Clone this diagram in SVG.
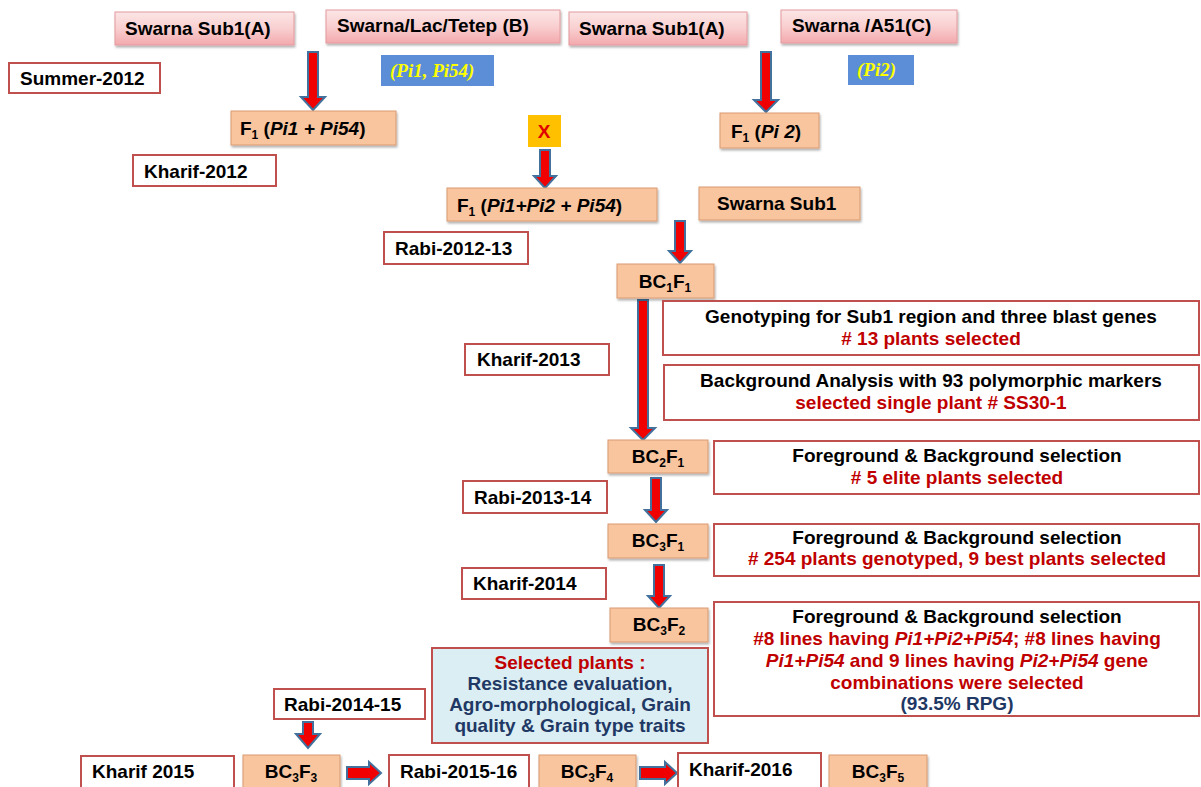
<svg xmlns="http://www.w3.org/2000/svg" width="1201" height="787" viewBox="0 0 1201 787">
<defs>
<linearGradient id="pink" x1="0" y1="0" x2="0" y2="1">
<stop offset="0" stop-color="#FCE6E6"/>
<stop offset="0.5" stop-color="#F9CFD0"/>
<stop offset="1" stop-color="#F3A9AD"/>
</linearGradient>
<filter id="sh" x="-5%" y="-10%" width="110%" height="130%">
<feDropShadow dx="1" dy="2" stdDeviation="1" flood-color="#000" flood-opacity="0.3"/>
</filter>
<style>
.t{font-family:"Liberation Sans",Arial,sans-serif;font-weight:bold;font-size:19px;fill:#000}
.c{text-anchor:middle}
.red{fill:#C00000}
.navy{fill:#1F3864}
.pink{fill:url(#pink);stroke:#E49A9E;stroke-width:1;filter:url(#sh)}
.sal{fill:#F8C59F;stroke:#D99A72;stroke-width:1;filter:url(#sh)}
.wb{fill:#fff;stroke:#C0504D;stroke-width:2}
.blue{fill:#5B8ED6}
.yt{font-family:"Liberation Serif","Times New Roman",serif;font-style:italic;font-weight:bold;font-size:19px;fill:#FFFF00}
.arr{fill:#F00000;stroke:#41719C;stroke-width:2;stroke-linejoin:miter}
.sub{font-size:12px}
</style>
</defs>
<rect width="1201" height="787" fill="#fff"/>

<g id="connectors">
<polygon class="arr" points="308,52 318,52 318,97 325,97 313,110 301,97 308,97"/>
<polygon class="arr" points="540,150 550,150 550,176 556,176 545,188 534,176 540,176"/>
<polygon class="arr" points="761,52 771,52 771,100 778,100 766,112 754,100 761,100"/>
<polygon class="arr" points="675,221 685,221 685,251 691,251 680,263 669,251 675,251"/>
<polygon class="arr" points="638,300 648,300 648,428 655,428 643,440 631,428 638,428"/>
<polygon class="arr" points="651,478 661,478 661,510 667,510 656,522 645,510 651,510"/>
<polygon class="arr" points="654,565 664,565 664,596 670,596 659,608 648,596 654,596"/>
<polygon class="arr" points="303,722 313,722 313,734 320,734 308,748 296,734 303,734"/>
<polygon class="arr" points="347,767 369,767 369,762 381,773 369,784 369,779 347,779"/>
<polygon class="arr" points="640,767 665,767 665,762 677,773 665,784 665,779 640,779"/>
</g>

<g id="n-swarna-sub1-a1"><rect class="pink" x="115" y="12" width="179" height="33"/><text class="t" x="125" y="35">Swarna Sub1(A)</text></g>
<g id="n-swarna-lac"><rect class="pink" x="326" y="10" width="234" height="33"/><text class="t" x="337" y="32">Swarna/Lac/Tetep (B)</text></g>
<g id="n-swarna-sub1-a2"><rect class="pink" x="569" y="12" width="178" height="33"/><text class="t" x="579" y="35">Swarna Sub1(A)</text></g>
<g id="n-swarna-a51"><rect class="pink" x="781" y="10" width="176" height="33"/><text class="t" x="792" y="32">Swarna /A51(C)</text></g>

<g id="n-pi1pi54"><rect class="blue" x="381" y="55" width="113" height="31"/><text class="yt" x="390" y="77">(Pi1, Pi54)</text></g>
<g id="n-pi2"><rect class="blue" x="848" y="55" width="66" height="30"/><text class="yt" x="857" y="76">(Pi2)</text></g>

<g id="n-summer2012"><rect class="wb" x="9" y="63" width="151" height="30"/><text class="t" x="20" y="85">Summer-2012</text></g>

<g id="n-f1-pi1pi54"><rect class="sal" x="231" y="111" width="165" height="34"/><text class="t" x="240" y="135">F<tspan class="sub" dy="4">1</tspan><tspan dy="-4"> (</tspan><tspan font-style="italic">Pi1 + Pi54</tspan>)</text></g>
<g id="n-x"><rect x="528" y="115" width="33" height="32" fill="#FFC000"/><text class="t c" x="544" y="138" style="fill:#E00000">X</text></g>
<g id="n-f1-pi2"><rect class="sal" x="720" y="113" width="99" height="35"/><text class="t" x="731" y="138">F<tspan class="sub" dy="4">1</tspan><tspan dy="-4"> (</tspan><tspan font-style="italic">Pi 2</tspan>)</text></g>

<g id="n-kharif2012"><rect class="wb" x="133" y="155" width="143" height="31"/><text class="t" x="144" y="178">Kharif-2012</text></g>

<g id="n-f1-all"><rect class="sal" x="447" y="188" width="210" height="33"/><text class="t" x="457" y="212">F<tspan class="sub" dy="4">1</tspan><tspan dy="-4"> (</tspan><tspan font-style="italic">Pi1+Pi2 + Pi54</tspan>)</text></g>
<g id="n-swarna-sub1"><rect class="sal" x="699" y="187" width="161" height="33"/><text class="t" x="717" y="210">Swarna Sub1</text></g>

<g id="n-rabi201213"><rect class="wb" x="384" y="232" width="144" height="32"/><text class="t" x="395" y="255">Rabi-2012-13</text></g>

<g id="n-bc1f1"><rect class="sal" x="617" y="264" width="97" height="34"/><text class="t c" x="665" y="288">BC<tspan class="sub" dy="4">1</tspan><tspan dy="-4">F</tspan><tspan class="sub" dy="4">1</tspan></text></g>

<g id="n-genotyping"><rect class="wb" x="663" y="301" width="536" height="54"/><text class="t c" x="931" y="323">Genotyping for Sub1 region and three blast genes</text><text class="t c red" x="931" y="345"># 13 plants selected</text></g>
<g id="n-kharif2013"><rect class="wb" x="465" y="344" width="144" height="31"/><text class="t" x="477" y="366">Kharif-2013</text></g>
<g id="n-background"><rect class="wb" x="664" y="365" width="535" height="55"/><text class="t c" x="931" y="387">Background Analysis with 93 polymorphic markers</text><text class="t c red" x="931" y="409">selected single plant # SS30-1</text></g>

<g id="n-bc2f1"><rect class="sal" x="608" y="440" width="100" height="33"/><text class="t c" x="658" y="463">BC<tspan class="sub" dy="4">2</tspan><tspan dy="-4">F</tspan><tspan class="sub" dy="4">1</tspan></text></g>
<g id="n-fg1"><rect class="wb" x="714" y="441" width="485" height="53"/><text class="t c" x="957" y="462">Foreground &amp; Background selection</text><text class="t c red" x="957" y="484"># 5 elite plants selected</text></g>
<g id="n-rabi201314"><rect class="wb" x="463" y="481" width="144" height="32"/><text class="t" x="474" y="504">Rabi-2013-14</text></g>

<g id="n-bc3f1"><rect class="sal" x="608" y="524" width="100" height="34"/><text class="t c" x="658" y="547">BC<tspan class="sub" dy="4">3</tspan><tspan dy="-4">F</tspan><tspan class="sub" dy="4">1</tspan></text></g>
<g id="n-fg2"><rect class="wb" x="714" y="524" width="485" height="52"/><text class="t c" x="957" y="544">Foreground &amp; Background selection</text><text class="t c red" x="957" y="565"># 254 plants genotyped, 9 best plants selected</text></g>
<g id="n-kharif2014"><rect class="wb" x="462" y="568" width="144" height="31"/><text class="t" x="473" y="590">Kharif-2014</text></g>

<g id="n-bc3f2"><rect class="sal" x="610" y="608" width="98" height="34"/><text class="t c" x="659" y="631">BC<tspan class="sub" dy="4">3</tspan><tspan dy="-4">F</tspan><tspan class="sub" dy="4">2</tspan></text></g>
<g id="n-fg3"><rect class="wb" x="714" y="602" width="485" height="114"/>
<text class="t c" x="957" y="623">Foreground &amp; Background selection</text>
<text class="t c red" x="957" y="645">#8 lines having <tspan font-style="italic">Pi1+Pi2+Pi54</tspan>; #8 lines having</text>
<text class="t c red" x="957" y="667"><tspan font-style="italic">Pi1+Pi54</tspan> and 9 lines having <tspan font-style="italic">Pi2+Pi54</tspan> gene</text>
<text class="t c red" x="957" y="689">combinations were selected</text>
<text class="t c navy" x="957" y="710">(93.5% RPG)</text></g>

<g id="n-selected"><rect x="432" y="648" width="276" height="95" fill="#DBEEF4" stroke="#C0504D" stroke-width="2"/>
<text class="t c red" x="570" y="669">Selected plants :</text>
<text class="t c navy" x="570" y="690">Resistance evaluation,</text>
<text class="t c navy" x="570" y="711">Agro-morphological, Grain</text>
<text class="t c navy" x="570" y="732">quality &amp; Grain type traits</text></g>

<g id="n-rabi201415"><rect class="wb" x="274" y="689" width="151" height="30"/><text class="t" x="284" y="711">Rabi-2014-15</text></g>

<g id="n-kharif2015"><rect class="wb" x="81" y="756" width="153" height="33"/><text class="t" x="92" y="778">Kharif 2015</text></g>
<g id="n-bc3f3"><rect class="sal" x="243" y="755" width="97" height="34"/><text class="t c" x="291" y="778">BC<tspan class="sub" dy="4">3</tspan><tspan dy="-4">F</tspan><tspan class="sub" dy="4">3</tspan></text></g>
<g id="n-rabi201516"><rect class="wb" x="389" y="755" width="140" height="34"/><text class="t" x="400" y="778">Rabi-2015-16</text></g>
<g id="n-bc3f4"><rect class="sal" x="539" y="755" width="97" height="34"/><text class="t c" x="587" y="778">BC<tspan class="sub" dy="4">3</tspan><tspan dy="-4">F</tspan><tspan class="sub" dy="4">4</tspan></text></g>
<g id="n-kharif2016"><rect class="wb" x="678" y="753" width="143" height="36"/><text class="t" x="689" y="776">Kharif-2016</text></g>
<g id="n-bc3f5"><rect class="sal" x="829" y="755" width="98" height="34"/><text class="t c" x="878" y="778">BC<tspan class="sub" dy="4">3</tspan><tspan dy="-4">F</tspan><tspan class="sub" dy="4">5</tspan></text></g>
</svg>
